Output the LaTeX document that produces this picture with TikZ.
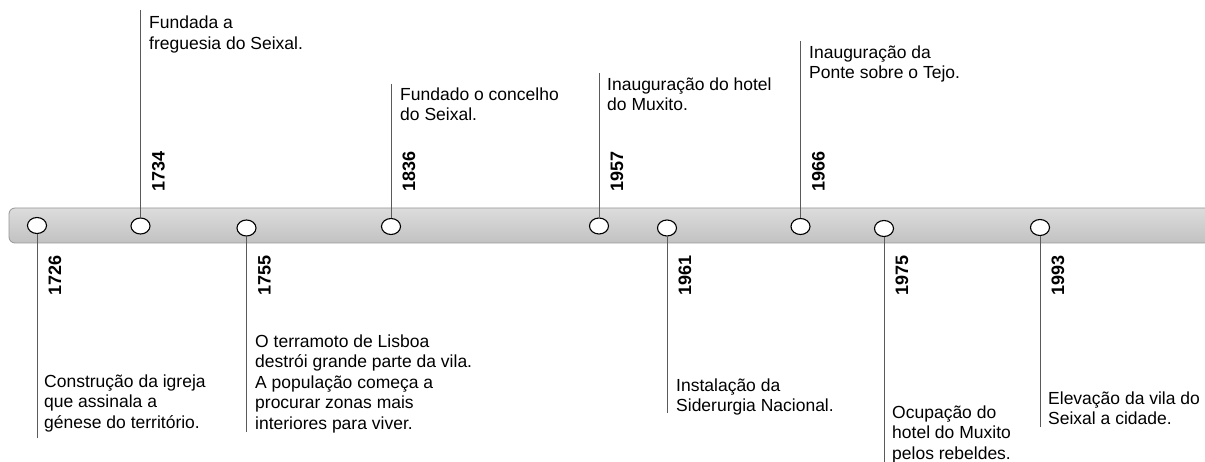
\documentclass[tikz,border=0pt]{standalone}
\usepackage{fontspec}
\setmainfont{Liberation Sans}
\usetikzlibrary{shapes.geometric}
\definecolor{bartop}{RGB}{220,220,220}
\definecolor{barbot}{RGB}{194,194,194}
\definecolor{barline}{RGB}{150,150,150}
\definecolor{stemcol}{RGB}{90,90,90}
\newcommand{\fs}{\rule{0pt}{13pt}}
\begin{document}
\begin{tikzpicture}[x=1pt,y=-1pt,
  dot/.style={ellipse,draw=black,line width=1.1pt,fill=white,minimum width=19pt,minimum height=16pt,inner sep=0pt},
  stem/.style={draw=stemcol,line width=0.9pt},
  yearup/.style={rotate=90,anchor=west,inner sep=0pt,font=\fontsize{18}{18}\selectfont\bfseries},
  yeardown/.style={rotate=90,anchor=east,inner sep=0pt,font=\fontsize{18}{18}\selectfont\bfseries},
  desc/.style={anchor=north west,align=left,inner sep=0pt,font=\fontsize{17.5}{20.5}\selectfont}]
\useasboundingbox (0,0) rectangle (1205,462);
% bar
\shade[top color=bartop,bottom color=barbot,draw=barline,line width=0.8pt,rounded corners=6pt]
  (9,208) rectangle (1220,243);
% end points of stems
\coordinate (e1726) at (37,438);
\coordinate (e1734) at (140.5,10);
\coordinate (e1755) at (246.5,432);
\coordinate (e1836) at (391,84);
\coordinate (e1957) at (599,73);
\coordinate (e1961) at (667,413);
\coordinate (e1966) at (800.5,41);
\coordinate (e1975) at (884,464);
\coordinate (e1993) at (1040,427);
% circles
\node[dot] (c1726) at (37,225.5) {};
\node[dot] (c1734) at (140.5,226) {};
\node[dot] (c1755) at (246.5,228) {};
\node[dot] (c1836) at (391,226.5) {};
\node[dot] (c1957) at (599,226) {};
\node[dot] (c1961) at (667,228) {};
\node[dot] (c1966) at (800.5,226.5) {};
\node[dot] (c1975) at (884,228.5) {};
\node[dot] (c1993) at (1040,227.5) {};
% stems
\foreach \y in {1726,1734,1755,1836,1957,1961,1966,1975,1993}
  \draw[stem] (e\y) -- (c\y);
% years
\node[yearup] (y1734) at (158.5,192) {1734};
\node[yearup] (y1836) at (409,192) {1836};
\node[yearup] (y1957) at (617,192) {1957};
\node[yearup] (y1966) at (818.5,192) {1966};
\node[yeardown] (y1726) at (55,255) {1726};
\node[yeardown] (y1755) at (264.5,255) {1755};
\node[yeardown] (y1961) at (685,255) {1961};
\node[yeardown] (y1975) at (902,255) {1975};
\node[yeardown] (y1993) at (1058,255) {1993};
% descriptions (top = first baseline - 13)
\node[desc] (t1734) at (149,15.5) {\fs Fundada a\\freguesia do Seixal.};
\node[desc] (t1836) at (400,87) {\fs Fundado o concelho\\do Seixal.};
\node[desc] (t1957) at (607,77) {\fs Inauguração do hotel\\do Muxito.};
\node[desc] (t1966) at (809,45) {\fs Inauguração da\\Ponte sobre o Tejo.};
\node[desc] (t1726) at (44,374) {\fs Construção da igreja\\que assinala a\\génese do território.};
\node[desc] (t1755) at (255,334) {\fs O terramoto de Lisboa\\destrói grande parte da vila.\\A população começa a\\procurar zonas mais\\interiores para viver.};
\node[desc] (t1961) at (676,378) {\fs Instalação da\\Siderurgia Nacional.};
\node[desc] (t1975) at (892,405) {\fs Ocupação do\\hotel do Muxito\\pelos rebeldes.};
\node[desc] (t1993) at (1048,391) {\fs Elevação da vila do\\Seixal a cidade.};
\end{tikzpicture}
\end{document}
